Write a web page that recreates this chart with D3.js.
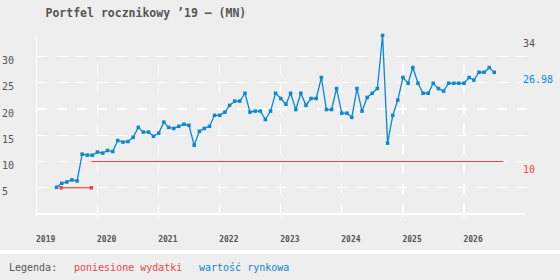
<!DOCTYPE html>
<html><head><meta charset="utf-8">
<script src="https://cdn.jsdelivr.net/npm/d3@7"></script>
<style>
html,body{margin:0;padding:0;background:#eeeeee;}
svg{display:block;font-family:"DejaVu Sans Mono",monospace;}
</style></head>
<body>
<svg id="c" width="560" height="280"></svg>
<script>
const title = "Portfel rocznikowy \u201919 \u2013 (MN)";
const months = ["2019-05","2019-06","2019-07","2019-08","2019-09","2019-10","2019-11","2019-12",
"2020-01","2020-02","2020-03","2020-04","2020-05","2020-06","2020-07","2020-08","2020-09","2020-10","2020-11","2020-12",
"2021-01","2021-02","2021-03","2021-04","2021-05","2021-06","2021-07","2021-08","2021-09","2021-10","2021-11","2021-12",
"2022-01","2022-02","2022-03","2022-04","2022-05","2022-06","2022-07","2022-08","2022-09","2022-10","2022-11","2022-12",
"2023-01","2023-02","2023-03","2023-04","2023-05","2023-06","2023-07","2023-08","2023-09","2023-10","2023-11","2023-12",
"2024-01","2024-02","2024-03","2024-04","2024-05","2024-06","2024-07","2024-08","2024-09","2024-10","2024-11","2024-12",
"2025-01","2025-02","2025-03","2025-04","2025-05","2025-06","2025-07","2025-08","2025-09","2025-10","2025-11","2025-12",
"2026-01","2026-02","2026-03","2026-04","2026-05","2026-06","2026-07"];
const marketValue = [5.1,5.85,6.1,6.5,6.3,11.4,11.2,11.2,
11.8,11.6,12.1,11.9,14.0,13.7,13.8,14.6,16.5,15.6,15.6,14.8,
15.4,17.5,16.5,16.3,16.7,17.1,16.9,13.1,15.75,16.3,16.7,18.8,
18.8,19.4,20.7,21.5,21.5,23.0,19.4,19.6,19.6,18.0,19.6,23.0,
22.0,20.9,23.0,19.9,23.0,20.7,22.0,22.0,26.0,19.9,19.9,23.9,
19.2,19.2,18.4,23.9,19.6,22.2,23.0,23.9,34.0,13.5,18.8,21.7,
26.0,24.9,27.9,24.9,23.0,23.0,24.9,23.9,23.4,24.9,24.9,24.9,
24.9,26.0,25.5,27.0,27.0,27.9,26.98];
const spendDates = ["2019-05-28","2019-11-25","2026-08-25"];
const spendValues = [5, 10];
const yTicks = [5,10,15,20,25,30];
const yearTicks = [2019,2020,2021,2022,2023,2024,2025,2026];
const legendLabels = ["Legenda:","poniesione wydatki","warto\u015b\u0107 rynkowa"];
const maxLabel = "34";
const lastLabel = "26.98";
const spendLabel = "10";

const BLUE = "#0a88d0", RED = "#f04545", GRAY = "#555555";
const svg = d3.select("#c");
const parseM = d3.timeParse("%Y-%m");
const parseD = d3.timeParse("%Y-%m-%d");

const x = d3.scaleTime().domain([new Date(2019,0,1), new Date(2027,0,1)]).range([36.5, 525]);
const y = d3.scaleLinear().domain([0, 34]).range([214, 35.5]);

// grid
const g = svg.append("g").attr("stroke","#fff").attr("stroke-width",1.2).attr("shape-rendering","crispEdges");
g.selectAll(".hg").data(yTicks).enter().append("line")
  .attr("x1", 36.5).attr("x2", 527).attr("y1", d=>y(d)).attr("y2", d=>y(d))
  .attr("stroke-dasharray","10,10");
g.selectAll(".vg").data(yearTicks.slice(1)).enter().append("line")
  .attr("x1", d=>x(new Date(d,0,1))).attr("x2", d=>x(new Date(d,0,1)))
  .attr("y1", y(0)).attr("y2", y(30))
  .attr("stroke-dasharray","10,10");
g.selectAll(".tk").data(yearTicks.slice(1)).enter().append("line")
  .attr("x1", d=>x(new Date(d,0,1))).attr("x2", d=>x(new Date(d,0,1)))
  .attr("y1", y(0)).attr("y2", y(0)+3);
g.append("line").attr("x1",36.5).attr("x2",525).attr("y1",y(0)).attr("y2",y(0));
g.append("line").attr("x1",36.5).attr("x2",36.5).attr("y1",36).attr("y2",y(0)+3);

// y labels
svg.append("g").selectAll("text").data(yTicks).enter().append("text")
  .attr("x", 2).attr("y", d=>y(d)+4).attr("dy","0.35em")
  .attr("font-size", 10).attr("fill", GRAY).text(d=>d);
// x labels
svg.append("g").selectAll("text").data(yearTicks).enter().append("text")
  .attr("x", d=>x(new Date(d,0,1))-0.5).attr("y", 239).attr("dy","0.35em")
  .attr("font-size", 8).attr("font-weight","bold").attr("fill", GRAY).text(d=>d);

// title
svg.append("text").attr("x", 45.5).attr("y", 12.5).attr("dy","0.35em")
  .attr("font-size", 11.5).attr("font-weight","bold").attr("fill", GRAY).text(title);

// spend series
const sd = spendDates.map(parseD);
svg.append("line").attr("x1", x(sd[0])).attr("x2", x(sd[1])).attr("y1", y(spendValues[0])).attr("y2", y(spendValues[0]))
  .attr("stroke", RED).attr("stroke-width", 1.2);
svg.append("line").attr("x1", x(sd[1])).attr("x2", x(sd[2])).attr("y1", y(spendValues[1])).attr("y2", y(spendValues[1]))
  .attr("stroke", RED).attr("stroke-width", 1.2);
svg.selectAll(".sm").data([sd[0], sd[1]]).enter().append("rect")
  .attr("x", d=>x(d)-1.75).attr("y", y(spendValues[0])-1.75).attr("width",3.5).attr("height",3.5).attr("fill", RED);

// market series
const data = months.map((m,i)=>({d: parseM(m), v: marketValue[i]}));
svg.append("path").datum(data)
  .attr("d", d3.line().x(p=>x(p.d)).y(p=>y(p.v)))
  .attr("fill","none").attr("stroke", BLUE).attr("stroke-width", 1.3);
svg.selectAll(".mm").data(data).enter().append("rect")
  .attr("x", p=>x(p.d)-1.75).attr("y", p=>y(p.v)-1.75).attr("width",3.5).attr("height",3.5).attr("fill", BLUE);

// right labels
const rl = [[maxLabel, d3.max(marketValue), GRAY],[lastLabel, marketValue[marketValue.length-1], BLUE],[spendLabel, spendValues[1], RED]];
svg.append("g").selectAll("text").data(rl).enter().append("text")
  .attr("x", 523).attr("y", d=>y(d[1])+7.5).attr("dy","0.35em")
  .attr("font-size", 10).attr("fill", d=>d[2]).text(d=>d[0]);

// legend
svg.append("rect").attr("x",0).attr("y",250).attr("width",560).attr("height",4).attr("fill","#fff");
const lx = [9, 74, 199], lc = [GRAY, RED, BLUE];
svg.append("g").selectAll("text").data(legendLabels).enter().append("text")
  .attr("x", (d,i)=>lx[i]).attr("y", 267).attr("dy","0.35em")
  .attr("font-size", 10).attr("fill", (d,i)=>lc[i]).text(d=>d);
</script>
</body></html>
